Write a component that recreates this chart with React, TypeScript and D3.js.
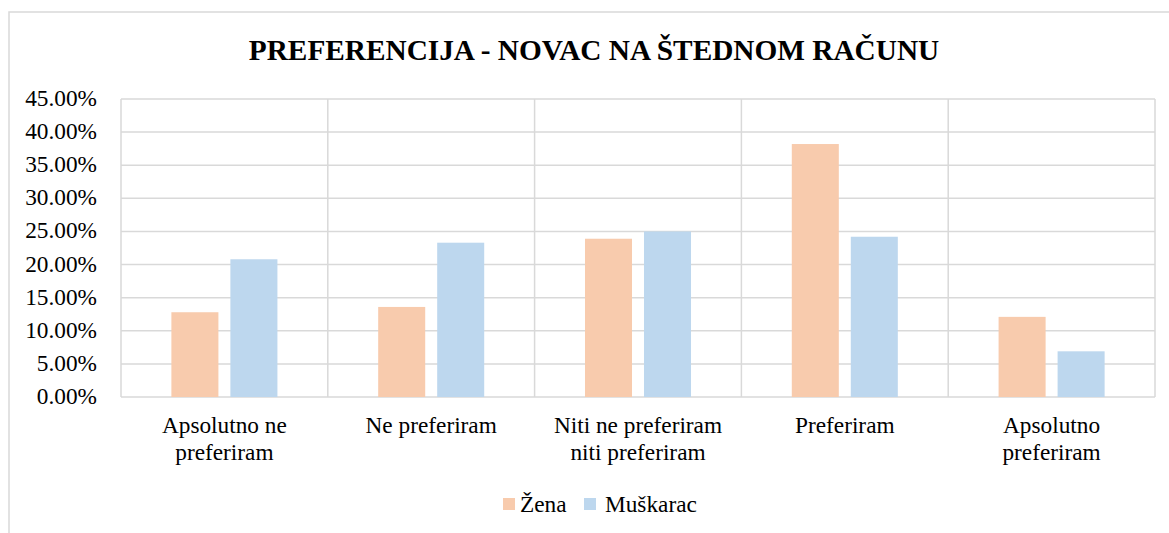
import React from 'react';
import * as d3 from 'd3';

const categories = [
  ['Apsolutno ne', 'preferiram'],
  ['Ne preferiram'],
  ['Niti ne preferiram', 'niti preferiram'],
  ['Preferiram'],
  ['Apsolutno', 'preferiram'],
];
const seriesNames = ['Žena', 'Muškarac'];
const zena = [12.8, 13.6, 23.9, 38.2, 12.1];
const muskarac = [20.8, 23.3, 25.0, 24.2, 6.9];
const yTicks = [0, 5, 10, 15, 20, 25, 30, 35, 40, 45];
const colors = ['#F8CBAD', '#BDD7EE'];

const W = 1169;
const H = 533;
const font = "'Liberation Serif', 'Times New Roman', 'DejaVu Serif', serif";
const fs = 23.3;

export default function App() {
  const left = 121, right = 1155, top = 99, bottom = 397;

  const x = d3.scaleBand<number>()
    .domain(d3.range(categories.length))
    .range([left, right]);
  const y = d3.scaleLinear().domain([0, 45]).range([bottom, top]);

  // bars inside each category
  const inner = d3.scaleBand<number>()
    .domain([0, 1])
    .range([0, x.bandwidth()])
    .paddingInner(0.203)
    .paddingOuter(0.854);

  const data = [zena, muskarac];

  return (
    <svg width={W} height={H} style={{ position: 'absolute', left: 0, top: 0, fontFamily: font }}>
      <rect x={0} y={0} width={W} height={H} fill="#fff" />
      {/* chart border */}
      <path d={`M9,${H + 5} L9,12 L${W + 5},12`} fill="none" stroke="#d9d9d9" strokeWidth={1.5} />

      <text x={594} y={60} textAnchor="middle" fontSize={29.3} fontWeight="bold" fill="#000">
        PREFERENCIJA - NOVAC NA ŠTEDNOM RAČUNU
      </text>

      {/* horizontal gridlines */}
      {yTicks.map(t => (
        <line key={'h' + t} x1={left} x2={right} y1={y(t)} y2={y(t)} stroke="#d9d9d9" strokeWidth={1.5} />
      ))}
      {/* vertical gridlines */}
      {d3.range(categories.length + 1).map(i => {
        const xx = left + i * x.step();
        return <line key={'v' + i} x1={xx} x2={xx} y1={top} y2={bottom} stroke="#d9d9d9" strokeWidth={1.5} />;
      })}

      {/* y tick labels */}
      {yTicks.map(t => (
        <text key={'yl' + t} x={97} y={y(t) + 7} textAnchor="end" fontSize={fs} fill="#000">
          {t.toFixed(2) + '%'}
        </text>
      ))}

      {/* bars */}
      {data.map((vals, s) =>
        vals.map((v, i) => (
          <rect
            key={s + '-' + i}
            x={(x(i) as number) + (inner(s) as number)}
            y={y(v)}
            width={inner.bandwidth()}
            height={bottom - y(v)}
            fill={colors[s]}
          />
        ))
      )}

      {/* category labels */}
      {categories.map((lines, i) => (
        <text key={'c' + i} x={(x(i) as number) + x.bandwidth() / 2} y={433} textAnchor="middle" fontSize={fs} fill="#000">
          {lines.map((l, j) => (
            <tspan key={j} x={(x(i) as number) + x.bandwidth() / 2} dy={j === 0 ? 0 : 26.7}>{l}</tspan>
          ))}
        </text>
      ))}

      {/* legend */}
      <rect x={503} y={498} width={12} height={12} fill={colors[0]} />
      <text x={520} y={512} fontSize={fs} fill="#000">{seriesNames[0]}</text>
      <rect x={584} y={498} width={12} height={12} fill={colors[1]} />
      <text x={605} y={512} fontSize={fs} fill="#000">{seriesNames[1]}</text>
    </svg>
  );
}
